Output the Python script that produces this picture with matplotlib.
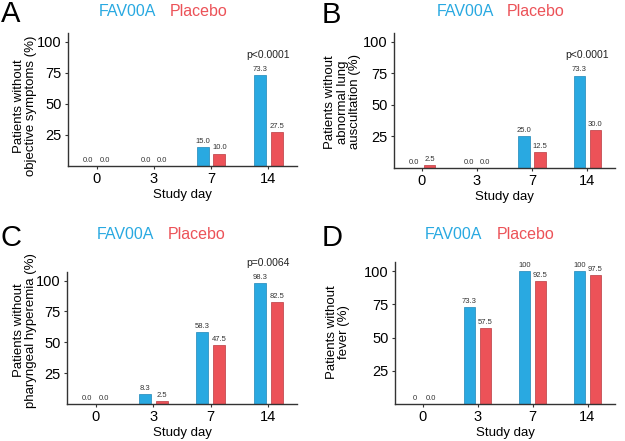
import matplotlib
matplotlib.use('Agg')
import numpy as np
import matplotlib.pyplot as plt

plt.rcParams['font.family'] = ['Liberation Sans', 'DejaVu Sans']

BLUE = '#29a9e1'
RED = '#ec5258'
BLUE_EDGE = '#1e86b8'
RED_EDGE = '#b93a40'

days = ['0', '3', '7', '14']

a_fav = [0.0, 0.0, 15.0, 73.3]
a_plc = [0.0, 0.0, 10.0, 27.5]
a_fav_lab = ['0.0', '0.0', '15.0', '73.3']
a_plc_lab = ['0.0', '0.0', '10.0', '27.5']

b_fav = [0.0, 0.0, 25.0, 73.3]
b_plc = [2.5, 0.0, 12.5, 30.0]
b_fav_lab = ['0.0', '0.0', '25.0', '73.3']
b_plc_lab = ['2.5', '0.0', '12.5', '30.0']

c_fav = [0.0, 8.3, 58.3, 98.3]
c_plc = [0.0, 2.5, 47.5, 82.5]
c_fav_lab = ['0.0', '8.3', '58.3', '98.3']
c_plc_lab = ['0.0', '2.5', '47.5', '82.5']

d_fav = [0.0, 73.3, 100.0, 100.0]
d_plc = [0.0, 57.5, 92.5, 97.5]
d_fav_lab = ['0', '73.3', '100', '100']
d_plc_lab = ['0.0', '57.5', '92.5', '97.5']

panels = [
    ('A', 'Patients without\nobjective symptoms (%)', a_fav, a_plc,
     a_fav_lab, a_plc_lab, 'p<0.0001'),
    ('B', 'Patients without\nabnormal lung\nauscultation (%)', b_fav, b_plc,
     b_fav_lab, b_plc_lab, 'p<0.0001'),
    ('C', 'Patients without\npharyngeal hyperemia (%)', c_fav, c_plc,
     c_fav_lab, c_plc_lab, 'p=0.0064'),
    ('D', 'Patients without\nfever (%)', d_fav, d_plc,
     d_fav_lab, d_plc_lab, None),
]

# axes boxes in pixels: left, right, bottom, top (from top of image)
boxes = [
    (68, 297, 166, 33),
    (394, 615, 168, 33),
    (67, 297, 404, 272),
    (395, 615, 404, 262),
]
# y label centre in axes coords
ylab_xy = [(-0.188, 0.45), (-0.231, 0.49), (-0.183, 0.56), (-0.259, 0.507)]
# legend / letter placement in pixels
letter_xy = [(1, 14), (322, 15), (0, 238), (322, 238)]
legend_xy = [(99, 170, 11), (437, 507, 11), (97, 168, 234), (425, 497, 234)]

W, H = 625, 441
fig = plt.figure(figsize=(W / 100, H / 100), dpi=100)

x = np.arange(len(days))
bw = 0.21
off = 0.145

for (letter, ylab, fav, plc, flab, plab, ptxt), box, lc, lxy, gxy in zip(
        panels, boxes, ylab_xy, letter_xy, legend_xy):
    l, r, b, t = box
    ax = fig.add_axes([l / W, 1 - b / H, (r - l) / W, (b - t) / H])
    bf = ax.bar(x - off, fav, bw, color=BLUE, edgecolor=BLUE_EDGE,
                linewidth=0.5)
    bp = ax.bar(x + off, plc, bw, color=RED, edgecolor=RED_EDGE,
                linewidth=0.5)
    for rect, s in zip(bf, flab):
        ax.annotate(s, (rect.get_x() + rect.get_width() / 2, rect.get_height()),
                    xytext=(0, 1.5), textcoords='offset points',
                    ha='center', va='bottom', fontsize=5.5, color='#333333')
    for rect, s in zip(bp, plab):
        ax.annotate(s, (rect.get_x() + rect.get_width() / 2, rect.get_height()),
                    xytext=(0, 1.5), textcoords='offset points',
                    ha='center', va='bottom', fontsize=5.5, color='#333333')
    if ptxt:
        ax.text(x[-1], max(fav[-1], plc[-1]) + 16, ptxt, ha='center',
                va='center', fontsize=7.5, color='#222222', clip_on=False)

    ax.set_xlim(-0.5, 3.5)
    ax.set_ylim(0, 107)
    ax.set_xticks(x)
    ax.set_xticklabels(days)
    ax.set_yticks([25, 50, 75, 100])
    ax.tick_params(labelsize=10.5, length=2.5, width=0.8, color='#333333',
                   pad=2)
    for sp in ('top', 'right'):
        ax.spines[sp].set_visible(False)
    for sp in ('left', 'bottom'):
        ax.spines[sp].set_color('#333333')
        ax.spines[sp].set_linewidth(1.0)
    ax.set_xlabel('Study day', fontsize=9.5, labelpad=2)
    ax.set_ylabel(ylab, fontsize=9.5, linespacing=1.05, va='center')
    ax.yaxis.set_label_coords(*lc)

    fig.text(lxy[0] / W, 1 - lxy[1] / H, letter, fontsize=21,
             ha='left', va='center')
    fig.text(gxy[0] / W, 1 - gxy[2] / H, 'FAV00A', fontsize=11.5,
             color=BLUE, ha='left', va='center')
    fig.text(gxy[1] / W, 1 - gxy[2] / H, 'Placebo', fontsize=11.5,
             color=RED, ha='left', va='center')

fig.savefig('out.png', dpi=100)
